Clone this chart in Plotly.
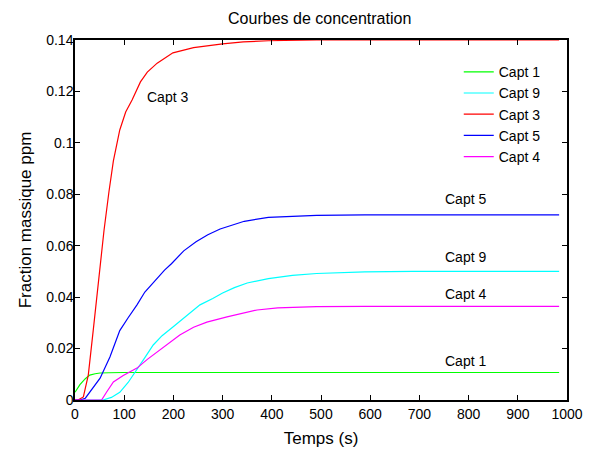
import plotly.graph_objects as go

# Capt 1 (green)
t1 = [0, 10, 21, 30, 41, 51, 69, 98, 196, 393, 589, 786, 984]
c1 = [0.003, 0.006, 0.0083, 0.0097, 0.0102, 0.0105, 0.0106, 0.0107, 0.0107, 0.0107, 0.0107, 0.0107, 0.0107]

# Capt 9 (cyan)
t9 = [0, 57, 74, 91, 108, 126, 142, 159, 177, 199, 226, 254, 280, 300, 324, 350, 393, 442, 491, 540, 589, 687, 786, 984]
c9 = [0, 0, 0.001, 0.003, 0.0068, 0.0117, 0.0165, 0.0214, 0.025, 0.0284, 0.0328, 0.037, 0.0395, 0.0416, 0.0437, 0.0455, 0.0472, 0.0485, 0.0492, 0.0496, 0.0498, 0.05, 0.05, 0.05]

# Capt 3 (red)
t3 = [0, 6, 17, 27, 37, 47, 59, 69, 78, 91, 103, 116, 133, 147, 167, 199, 241, 300, 342, 393, 491, 589, 786, 984]
c3 = [0, 0, 0.0012, 0.0097, 0.027, 0.046, 0.066, 0.081, 0.093, 0.105, 0.112, 0.1167, 0.1237, 0.1275, 0.131, 0.135, 0.137, 0.1385, 0.1393, 0.1397, 0.14, 0.14, 0.14, 0.14]

# Capt 5 (blue)
t5 = [0, 10, 21, 34, 51, 71, 91, 108, 126, 142, 163, 182, 196, 221, 246, 270, 295, 344, 393, 442, 491, 589, 786, 984]
c5 = [0, 0, 0.0007, 0.004, 0.0085, 0.0167, 0.027, 0.032, 0.037, 0.042, 0.0467, 0.0505, 0.053, 0.058, 0.0615, 0.0643, 0.0665, 0.0695, 0.071, 0.0715, 0.0718, 0.072, 0.072, 0.072]

# Capt 4 (magenta)
t4 = [0, 54, 64, 78, 98, 126, 147, 167, 191, 213, 241, 268, 309, 370, 412, 491, 589, 786, 984]
c4 = [0, 0, 0.003, 0.007, 0.0095, 0.0124, 0.0158, 0.0187, 0.0222, 0.0253, 0.0283, 0.0303, 0.0323, 0.035, 0.0358, 0.0363, 0.0364, 0.0364, 0.0364]

series = [
    ("Capt 1", t1, c1, "#00FF00"),
    ("Capt 9", t9, c9, "#00FFFF"),
    ("Capt 3", t3, c3, "#FF0000"),
    ("Capt 5", t5, c5, "#0000FF"),
    ("Capt 4", t4, c4, "#FF00FF"),
]

labels = [
    ("Capt 3", 189, 0.118),
    ("Capt 5", 793, 0.078),
    ("Capt 9", 793, 0.0555),
    ("Capt 4", 793, 0.0414),
    ("Capt 1", 793, 0.0153),
]

fig = go.Figure()
for name, t, c, col in series:
    fig.add_trace(go.Scatter(x=t, y=c, mode="lines", name=name,
                             line=dict(color=col, width=1.2)))

for txt, x, y in labels:
    fig.add_annotation(x=x, y=y, text=txt, showarrow=False,
                       font=dict(size=14, color="black"))

fig.update_layout(
    width=592, height=450,
    margin=dict(l=75, r=25, t=40, b=50, autoexpand=False),
    paper_bgcolor="white", plot_bgcolor="white",
    font=dict(family="Liberation Sans, Arial", size=14, color="black"),
    title=dict(text="Courbes de concentration", x=0.54, xanchor="center",
               y=0.96, yanchor="middle", font=dict(size=16), automargin=False),
    legend=dict(x=0.78, y=0.955, xanchor="left", yanchor="top",
                bgcolor="rgba(0,0,0,0)", borderwidth=0,
                font=dict(size=14), tracegroupgap=0, itemwidth=30),
    showlegend=True,
)
fig.update_xaxes(range=[0, 1000], dtick=100, showgrid=False, zeroline=False,
                 showline=True, linecolor="black", linewidth=1.5, mirror="ticks",
                 ticks="inside", ticklen=5, tickcolor="black", automargin=False,
                 title=dict(text="Temps (s)", font=dict(size=17), standoff=12))
fig.update_yaxes(range=[0, 0.14], dtick=0.02, showgrid=False, zeroline=False,
                 showline=True, linecolor="black", linewidth=1.5, mirror="ticks",
                 ticks="inside", ticklen=5, tickcolor="black", tickformat="~g",
                 automargin=False, ticklabelstandoff=-3,
                 title=dict(text="Fraction massique ppm", font=dict(size=17), standoff=10))

fig.write_html("out.html", config={"displayModeBar": False},
               post_script="document.body.style.margin='0';")
